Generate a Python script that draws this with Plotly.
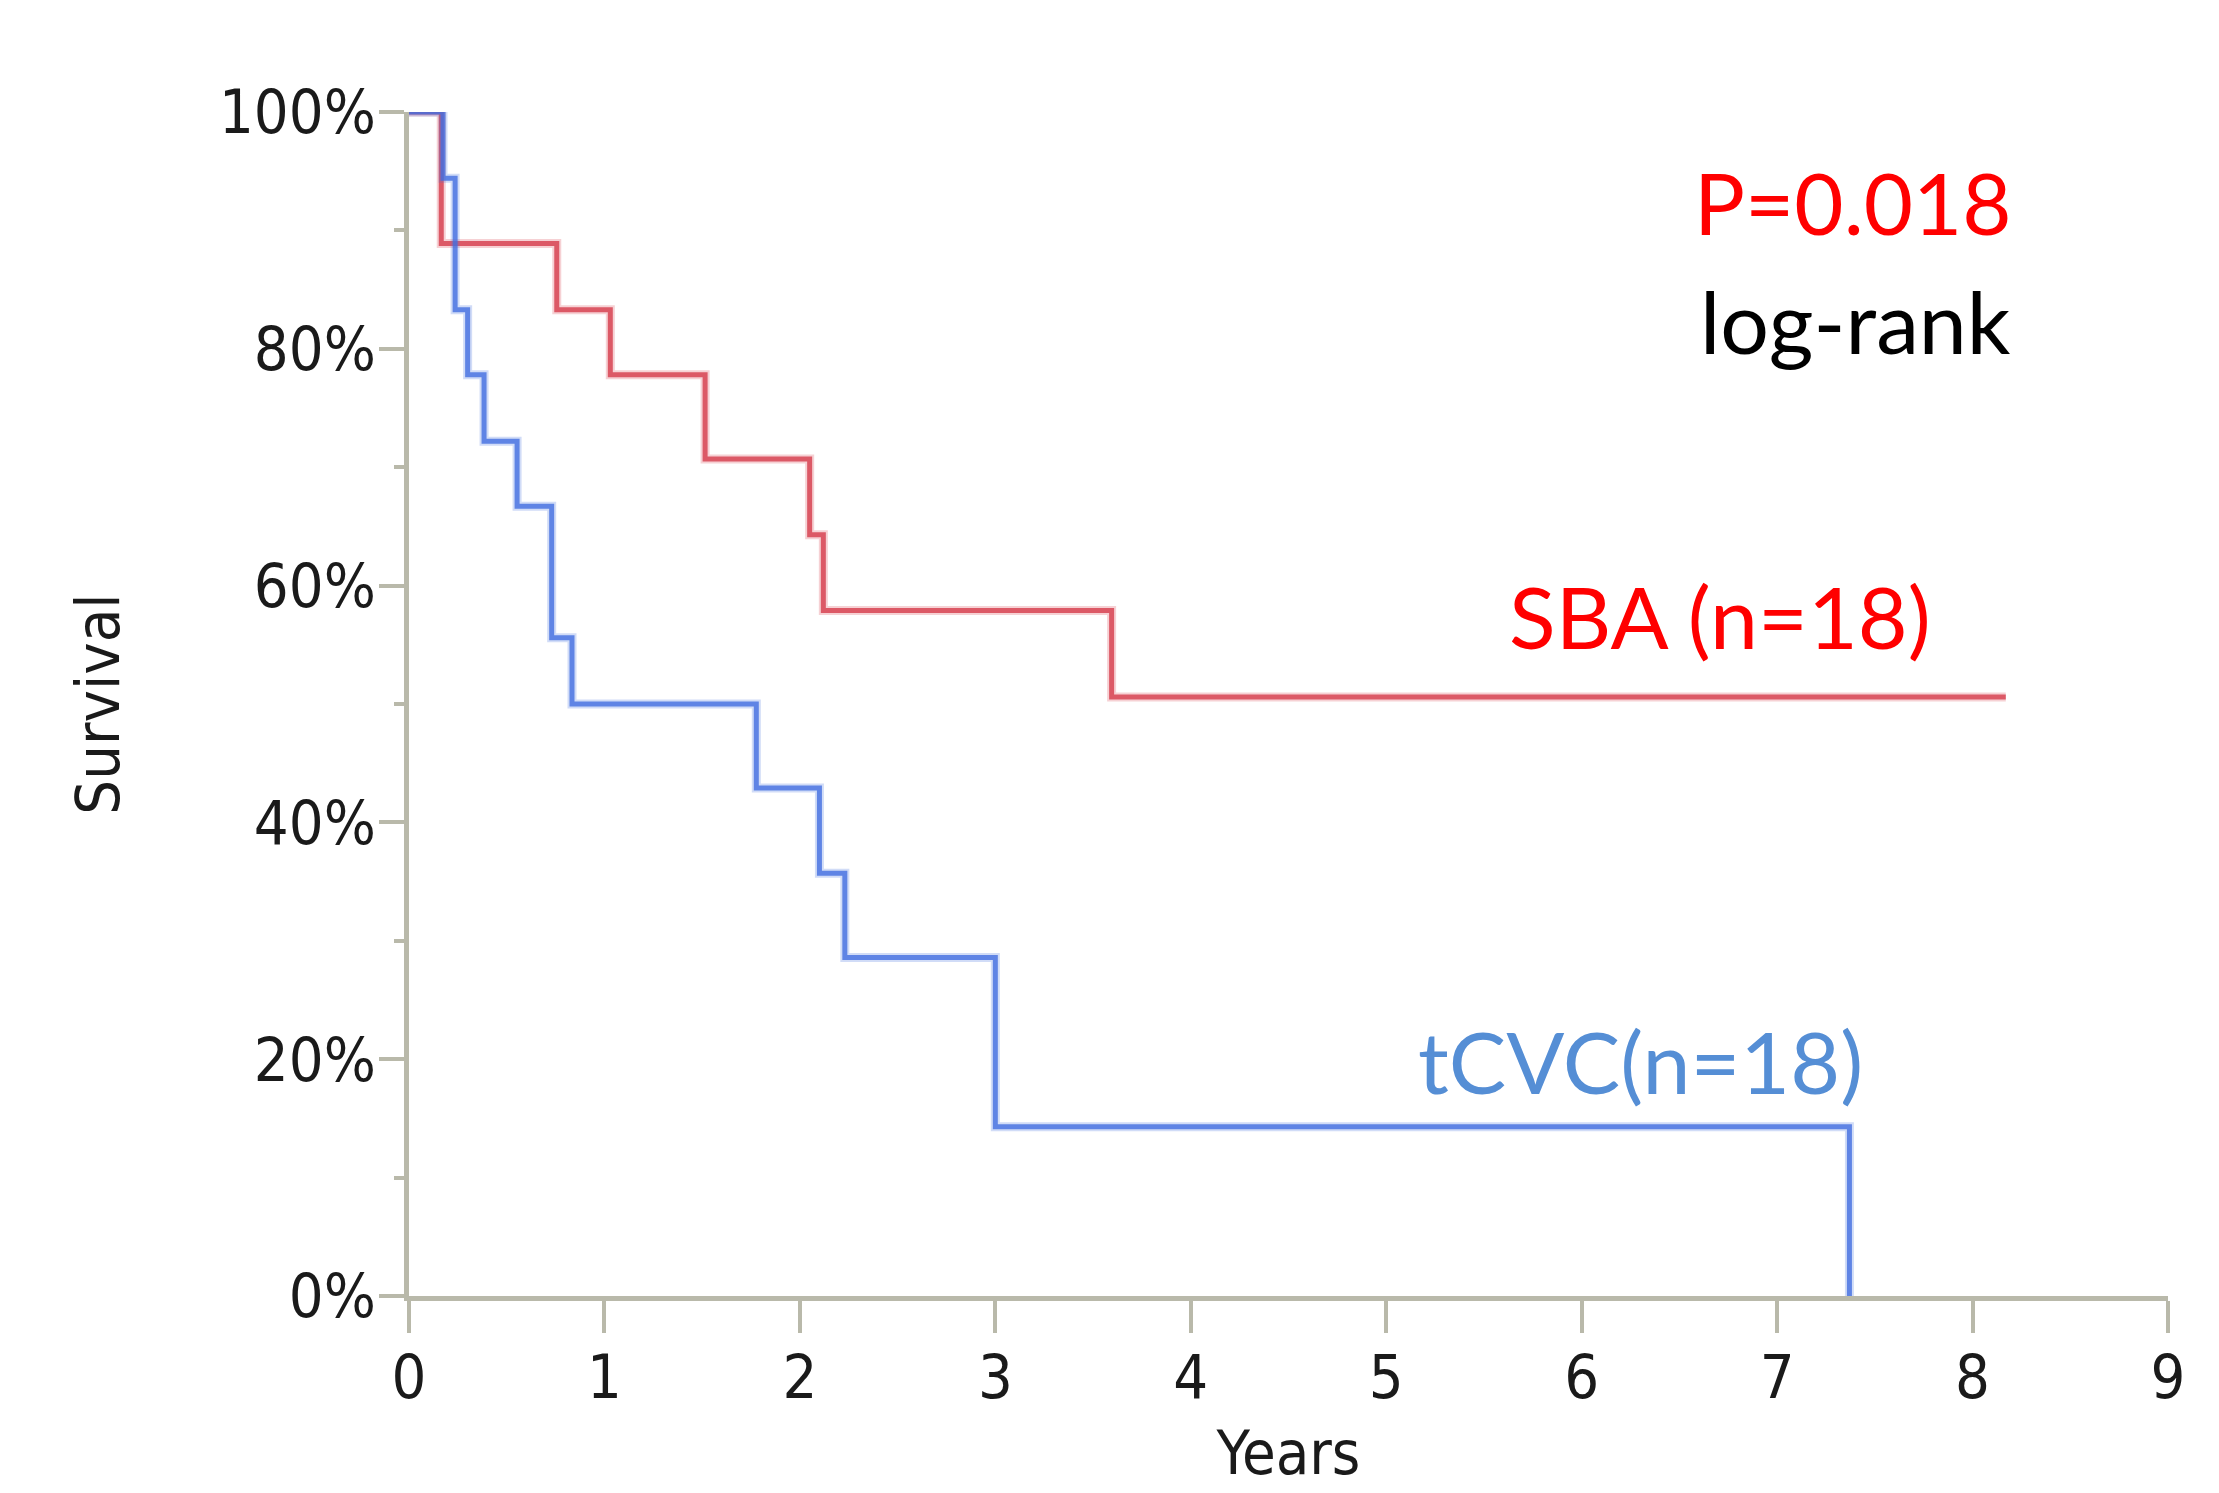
import plotly.graph_objects as go

# Kaplan-Meier step data (years, survival %)
sba_years = [0, 0.165, 0.756, 1.03, 1.515, 2.05, 2.12, 3.595, 8.17]
sba_surv = [100, 88.9, 83.3, 77.8, 70.7, 64.3, 57.9, 50.6, 50.6]

tcvc_years = [0, 0.174, 0.236, 0.30, 0.384, 0.553, 0.73, 0.834, 1.777, 2.10, 2.23, 3.0, 7.37]
tcvc_surv = [100, 94.4, 83.3, 77.8, 72.2, 66.7, 55.6, 50.0, 42.9, 35.7, 28.6, 14.3, 0]

x_ticks = [0, 1, 2, 3, 4, 5, 6, 7, 8, 9]
y_ticks = [0, 20, 40, 60, 80, 100]
y_ticklabels = ["0%", "20%", "40%", "60%", "80%", "100%"]

AXIS_COLOR = "#b9b9aa"
TICK_FONT = dict(family="DejaVu Sans Condensed, DejaVu Sans, sans-serif", size=61, color="#1a1a1a")
TEXT_FONT = "Lato, Noto Sans, sans-serif"

fig = go.Figure()

for xs, ys, halo, core in [
    (sba_years, sba_surv, "rgba(220,70,85,0.25)", "rgba(214,62,78,0.82)"),
    (tcvc_years, tcvc_surv, "rgba(70,115,225,0.25)", "rgba(66,110,224,0.8)"),
]:
    fig.add_trace(go.Scatter(x=xs, y=ys, mode="lines", line=dict(shape="hv", color=halo, width=9),
                             cliponaxis=False, showlegend=False, hoverinfo="skip"))
    fig.add_trace(go.Scatter(x=xs, y=ys, mode="lines", line=dict(shape="hv", color=core, width=5),
                             cliponaxis=False, showlegend=False))

fig.add_annotation(x=7.39, y=92.4, text="P=0.018", showarrow=False, xanchor="center", yanchor="middle",
                   font=dict(family=TEXT_FONT, size=85, color="#ff0000"))
fig.add_annotation(x=7.40, y=82.4, text="log-rank", showarrow=False, xanchor="center", yanchor="middle",
                   font=dict(family=TEXT_FONT, size=86, color="#000000"))
fig.add_annotation(x=6.71, y=57.5, text="SBA (n=18)", showarrow=False, xanchor="center", yanchor="middle",
                   font=dict(family=TEXT_FONT, size=86, color="#ff0000"))
fig.add_annotation(x=6.30, y=19.9, text="tCVC(n=18)", showarrow=False, xanchor="center", yanchor="middle",
                   font=dict(family=TEXT_FONT, size=86, color="#558ed5"))

fig.update_xaxes(
    range=[0, 9], tickvals=x_ticks, ticktext=[str(v) for v in x_ticks],
    showline=True, linecolor=AXIS_COLOR, linewidth=5, showgrid=False, zeroline=False,
    ticks="outside", ticklen=32, tickwidth=4, tickcolor=AXIS_COLOR,
    ticklabelstandoff=-8,
    tickfont=TICK_FONT,
    title=dict(text="Years", font=TICK_FONT, standoff=22),
)
fig.update_yaxes(
    range=[0, 100], tickvals=y_ticks, ticktext=y_ticklabels,
    showline=True, linecolor=AXIS_COLOR, linewidth=5, showgrid=False, zeroline=False,
    ticks="outside", ticklen=25, tickwidth=4, tickcolor=AXIS_COLOR,
    ticklabelstandoff=-9,
    minor=dict(dtick=10, ticks="outside", ticklen=10, tickwidth=4, tickcolor=AXIS_COLOR, showgrid=False),
    tickfont=TICK_FONT,
    title=dict(text="Survival", font=TICK_FONT, standoff=81),
)

fig.update_layout(
    width=2219, height=1493,
    margin=dict(l=401, r=59, t=104, b=205, autoexpand=False),
    plot_bgcolor="white", paper_bgcolor="white",
)

fig.write_html("out.html")
